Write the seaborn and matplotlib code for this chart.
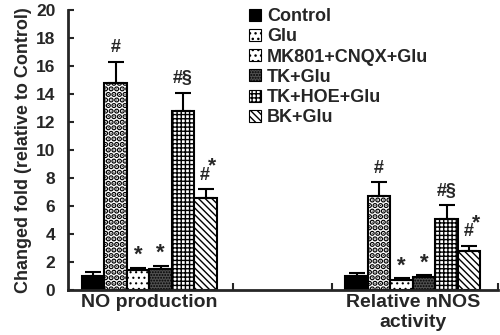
import matplotlib
matplotlib.use("Agg")
import matplotlib.pyplot as plt
from matplotlib.patches import Patch
import seaborn as sns
import pandas as pd
import numpy as np

categories = ["NO production", "Relative nNOS\nactivity"]
groups = ["Control", "Glu", "MK801+CNQX+Glu", "TK+Glu", "TK+HOE+Glu", "BK+Glu"]
no_vals = [1.0, 14.8, 1.4, 1.5, 12.8, 6.6]
no_err = [0.3, 1.5, 0.2, 0.25, 1.3, 0.6]
nnos_vals = [1.0, 6.7, 0.7, 0.9, 5.1, 2.8]
nnos_err = [0.25, 1.0, 0.15, 0.15, 0.95, 0.35]
no_marks = ["", "#", "*", "*", "#§", "#*"]
nnos_marks = ["", "#", "*", "*", "#§", "#*"]
y_ticks = list(range(0, 21, 2))

# fill styles
faces = ["black", "white", "white", "#505050", "white", "white"]
hatches = ["", "...", "...", "......", "++++", "\\\\\\\\\\"]
hatch_lw = [1.0, 2.8, 0.8, 0.9, 1.0, 1.0]

sns.set_style("ticks")
plt.rcParams["font.family"] = ["Liberation Sans", "DejaVu Sans"]
plt.rcParams["font.weight"] = "bold"
plt.rcParams["hatch.linewidth"] = 1.0

df = pd.DataFrame({
    "category": [categories[0]] * 6 + [categories[1]] * 6,
    "group": groups * 2,
    "value": no_vals + nnos_vals,
})

fig = plt.figure(figsize=(5, 3.35), dpi=100)
ax = fig.add_axes([68 / 500, 45 / 335, 430 / 500, 280 / 335])

palette = {g: f for g, f in zip(groups, faces)}
sns.barplot(data=df, x="category", y="value", hue="group", order=categories,
            hue_order=groups, palette=palette, width=0.512, errorbar=None,
            edgecolor="black", linewidth=1.5, legend=False, ax=ax, saturation=1)

errs = [no_err, nnos_err]
vals = [no_vals, nnos_vals]
marks = [no_marks, nnos_marks]
bar_containers = list(ax.containers)
for i, cont in enumerate(bar_containers):
    for j, bar in enumerate(cont.patches):
        bar.set_hatch(hatches[i])
        bar.set_facecolor(faces[i])
        if hasattr(bar, "set_hatch_linewidth"):
            bar.set_hatch_linewidth(hatch_lw[i])
        cx = bar.get_x() + bar.get_width() / 2
        v = vals[j][i]
        e = errs[j][i]
        ax.errorbar(cx, v, yerr=[[0], [e]], fmt="none", ecolor="black",
                    elinewidth=1.5, capsize=5.5, capthick=1.5, zorder=3)
        m = marks[j][i]
        if m:
            if m == "#*":
                ax.annotate("#", (cx, v + e), xytext=(3, 4), textcoords="offset points",
                            ha="right", va="bottom", fontsize=13, fontweight="bold")
                ax.annotate("*", (cx, v + e), xytext=(2, 10), textcoords="offset points",
                            ha="left", va="bottom", fontsize=15, fontweight="bold")
            elif m == "*":
                ax.annotate(m, (cx, v + e), xytext=(0, 1), textcoords="offset points",
                            ha="center", va="bottom", fontsize=16, fontweight="bold")
            else:
                ax.annotate(m, (cx, v + e), xytext=(0, 4), textcoords="offset points",
                            ha="center", va="bottom", fontsize=13, fontweight="bold")

ax.set_xlim(-0.309, 1.323)
ax.set_ylim(0, 20)
ax.set_yticks(y_ticks)
ax.tick_params(axis="y", direction="in", length=4, width=1.5, labelsize=12.5, pad=9)
ax.tick_params(axis="x", which="major", length=0, labelsize=14, pad=3)
ax.set_xticks([0.317, 0.693, 1.323], minor=True)
ax.tick_params(axis="x", which="minor", direction="in", length=5, width=1.5)
for lab in ax.get_xticklabels() + ax.get_yticklabels():
    lab.set_fontweight("bold")
ax.set_xlabel("")
ax.set_ylabel("Changed fold (relative to Control)", fontsize=13, fontweight="bold", labelpad=3)
sns.despine(ax=ax)
for s in ["left", "bottom"]:
    ax.spines[s].set_linewidth(2)

handles = []
for f, h, lw in zip(faces, hatches, hatch_lw):
    p = Patch(facecolor=f, edgecolor="black", hatch=h, linewidth=0.8)
    if hasattr(p, "set_hatch_linewidth"):
        p.set_hatch_linewidth(min(lw, 1.2))
    handles.append(p)
leg = fig.legend(handles, groups, loc="upper left", bbox_to_anchor=(249 / 500, 1 - 8 / 335),
                 frameon=False, fontsize=13, handlelength=0.65, handleheight=0.65,
                 handletextpad=0.35, labelspacing=0.18, borderpad=0, borderaxespad=0)
for t in leg.get_texts():
    t.set_fontweight("bold")

fig.savefig("out.png", dpi=100)
